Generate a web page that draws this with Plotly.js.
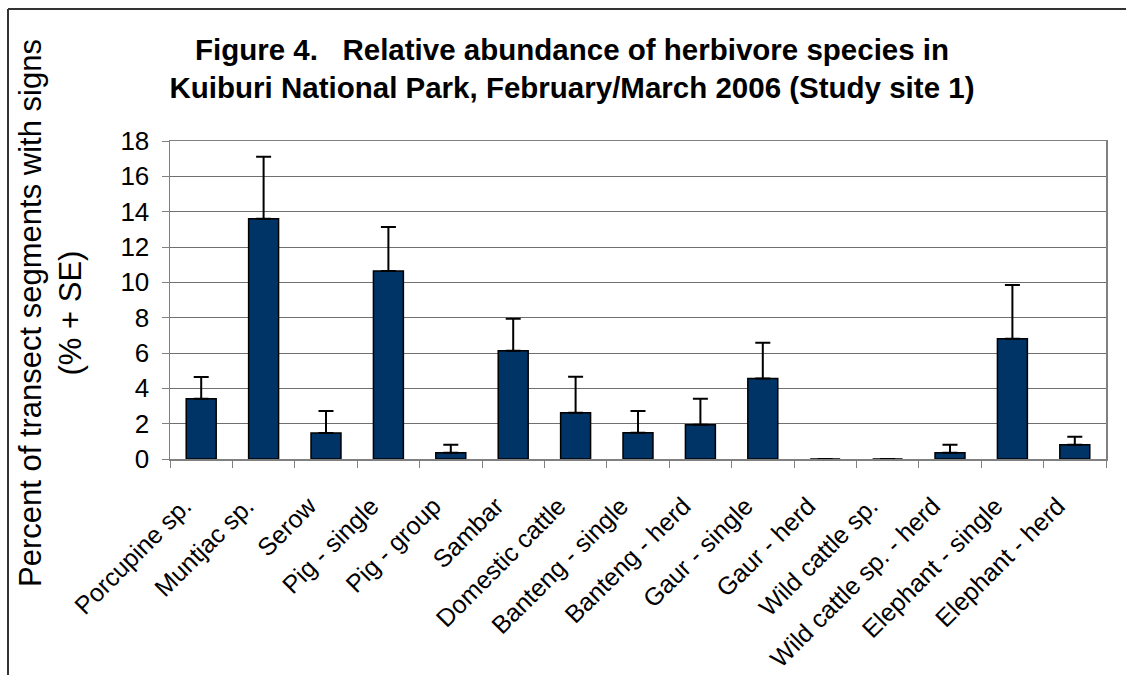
<!DOCTYPE html>
<html>
<head>
<meta charset="utf-8">
<script src="https://cdn.plot.ly/plotly-3.0.1.min.js"></script>
<style>html,body{margin:0;padding:0;background:#fff;}#chart{width:1126px;height:675px;}</style>
</head>
<body>
<div id="chart"></div>
<script>
const categories = ["Porcupine sp.", "Muntjac sp.", "Serow", "Pig - single", "Pig - group", "Sambar",
  "Domestic cattle", "Banteng - single", "Banteng - herd", "Gaur - single", "Gaur - herd",
  "Wild cattle sp.", "Wild cattle sp. - herd", "Elephant - single", "Elephant - herd"];
const percentValues = [3.41, 13.6, 1.47, 10.64, 0.36, 6.13, 2.62, 1.49, 1.94, 4.55, 0, 0, 0.36, 6.81, 0.81];
const seValues = [1.23, 3.51, 1.25, 2.49, 0.45, 1.81, 2.04, 1.23, 1.47, 2.03, 0, 0, 0.45, 3.04, 0.45];
const yTickValues = [0, 2, 4, 6, 8, 10, 12, 14, 16, 18];
const titleText = "Figure 4.\u00A0\u00A0\u00A0Relative abundance of herbivore species in<br>Kuiburi National Park, February/March 2006 (Study site 1)";
const yTitleText = "Percent of transect segments with signs<br>(% + SE)";

const font = "Arial, 'Liberation Sans', Helvetica, sans-serif";

const trace = {
  type: "bar",
  x: categories,
  y: percentValues,
  marker: { color: "#003366", line: { color: "#000000", width: 1.5 } },
  error_y: { type: "data", array: seValues, symmetric: false, arrayminus: seValues.map(() => 0),
             color: "#000000", thickness: 2, width: 7.5, visible: true },
  hoverinfo: "x+y"
};

const layout = {
  width: 1126, height: 675,
  margin: { l: 170, r: 20, t: 141, b: 216, pad: 0 },
  paper_bgcolor: "#ffffff", plot_bgcolor: "#ffffff",
  showlegend: false,
  bargap: 0.52,
  font: { family: font, color: "#000000" },
  title: { text: titleText, font: { family: font, size: 29.5, color: "#000000", weight: "bold" },
           x: 572 / 1126, xanchor: "center", xref: "container",
           y: 1 - 60 / 675, yanchor: "middle", yref: "container" },
  xaxis: {
    type: "category", tickangle: -45, tickfont: { size: 25, family: font },
    ticks: "outside", ticklen: 7, tickcolor: "#808080", tickson: "boundaries",
    ticklabelstandoff: 21, ticklabelshift: -17,
    showline: true, linecolor: "#808080", linewidth: 1.5, mirror: true,
    showgrid: false, automargin: false
  },
  yaxis: {
    range: [0, 18], tickvals: yTickValues, ticktext: yTickValues.map(String),
    tickfont: { size: 26, family: font }, ticklabelstandoff: 7,
    ticks: "outside", ticklen: 7, tickcolor: "#808080",
    showline: true, linecolor: "#808080", linewidth: 1.5, mirror: true,
    showgrid: true, gridcolor: "#707070", gridwidth: 1, zeroline: false,
    automargin: false, fixedrange: true
  },
  annotations: [{
    text: yTitleText, xref: "paper", yref: "paper",
    x: (50 - 170) / 936, y: (459 - 313) / 318, xanchor: "center", yanchor: "middle",
    textangle: -90, showarrow: false, font: { size: 31, family: font, color: "#000000" }
  }],
  shapes: [
    { type: "line", xref: "paper", yref: "paper", x0: (8 - 170) / 936, x1: (8 - 170) / 936,
      y0: (459 - 700) / 318, y1: (459 - 9) / 318, line: { color: "#333333", width: 2 } },
    { type: "line", xref: "paper", yref: "paper", x0: (8 - 170) / 936, x1: (1130 - 170) / 936,
      y0: (459 - 9) / 318, y1: (459 - 9) / 318, line: { color: "#333333", width: 2 } }
  ]
};

Plotly.newPlot("chart", [trace], layout, { staticPlot: true, displayModeBar: false });
</script>
</body>
</html>
